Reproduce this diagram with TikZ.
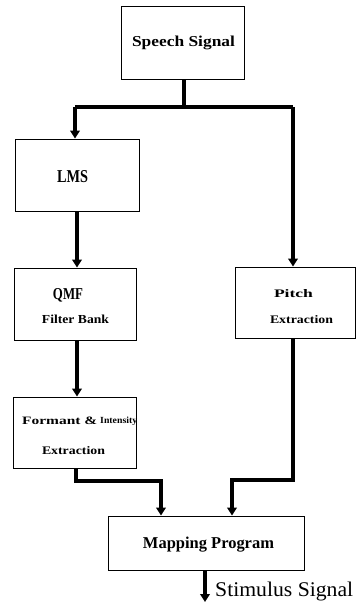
\documentclass[tikz,border=0pt]{standalone}
\usepackage{fontspec}
\usepackage{graphicx}
\setmainfont{Liberation Serif}
\usetikzlibrary{arrows.meta}
\newcommand{\fitb}[3]{\resizebox{#1pt}{#2pt}{\bfseries #3}}
\newcommand{\fitr}[3]{\resizebox{#1pt}{#2pt}{#3}}
\tikzset{
  blk/.style={draw=black, line width=0.9pt, minimum width=#1, inner sep=0pt},
  lbl/.style={anchor=base, inner sep=0pt},
  flow/.style={line width=3.6pt, -{Triangle[width=9.5pt,length=8pt]}},
  flown/.style={line width=3.6pt},
}
\begin{document}
\begin{tikzpicture}[x=1pt,y=-1pt]
\useasboundingbox (0,0) rectangle (356,602);
% boxes
\node[draw, line width=0.9pt, minimum width=123pt, minimum height=73pt, inner sep=0pt] (speech) at (182.5,42.5) {};
\node[draw, line width=0.9pt, minimum width=124pt, minimum height=72pt, inner sep=0pt] (lms) at (77,175) {};
\node[draw, line width=0.9pt, minimum width=122pt, minimum height=72pt, inner sep=0pt] (qmf) at (75,304) {};
\node[draw, line width=0.9pt, minimum width=123pt, minimum height=71pt, inner sep=0pt] (formant) at (74.5,432.5) {};
\node[draw, line width=0.9pt, minimum width=120pt, minimum height=71pt, inner sep=0pt] (pitch) at (295,302.5) {};
\node[draw, line width=0.9pt, minimum width=196pt, minimum height=54pt, inner sep=0pt] (mapping) at (206,543) {};
% texts
\node[lbl] (tspeech) at (183.5,47) {\fitb{103}{10.5}{Speech Signal}};
\node[lbl] (tlms) at (72.5,182) {\fitb{31}{12}{LMS}};
\node[lbl] (tqmf) at (68,299) {\fitb{30}{11}{QMF}};
\node[lbl] (tfilter) at (75.5,323) {\fitb{67}{8.5}{Filter Bank}};
\node[lbl] (tpitch) at (293.5,297) {\fitb{39}{8}{Pitch}};
\node[lbl] (tpext) at (301.5,323) {\fitb{63}{8}{Extraction}};
\node[lbl, anchor=base west] (tform) at (22,424) {\fitb{75}{7.5}{Formant \&}};
\node[lbl, anchor=base west] (tint) at (100,423) {\fitb{37}{6.5}{Intensity}};
\node[lbl] (tfext) at (73.5,454) {\fitb{63}{8}{Extraction}};
\node[lbl] (tmap) at (208.5,548) {\fitb{131}{11.5}{Mapping Program}};
% connector coordinates
\coordinate (split) at (184,107);
\coordinate (sl) at (75,107);
\coordinate (sr) at (293,107);
\coordinate (fl) at (76,481);
\coordinate (fr) at (161,481);
\coordinate (pl) at (293,480);
\coordinate (pr) at (232,480);
\coordinate (out) at (205,602);
% connectors
\draw[flown] (speech.south -| split) -- (split);
\draw[flown] (sl) -- (sr);
\draw[flow] (sl) -- (sl |- lms.north);
\draw[flow] (sr) -- (sr |- pitch.north);
\draw[flow] (lms.south -| 77,0) -- (qmf.north -| 77,0);
\draw[flow] (qmf.south -| 77,0) -- (formant.north -| 77,0);
\draw[flow] (formant.south -| fl) -- (fl) -- (fr) -- (fr |- mapping.north);
\draw[flow] (pitch.south -| pl) -- (pl) -- (pr) -- (pr |- mapping.north);
\draw[flow] (mapping.south -| out) -- (out);
\node[lbl, anchor=base west] (stim) at (215,596) {\fitr{138}{14.5}{Stimulus Signal}};
\end{tikzpicture}
\end{document}
